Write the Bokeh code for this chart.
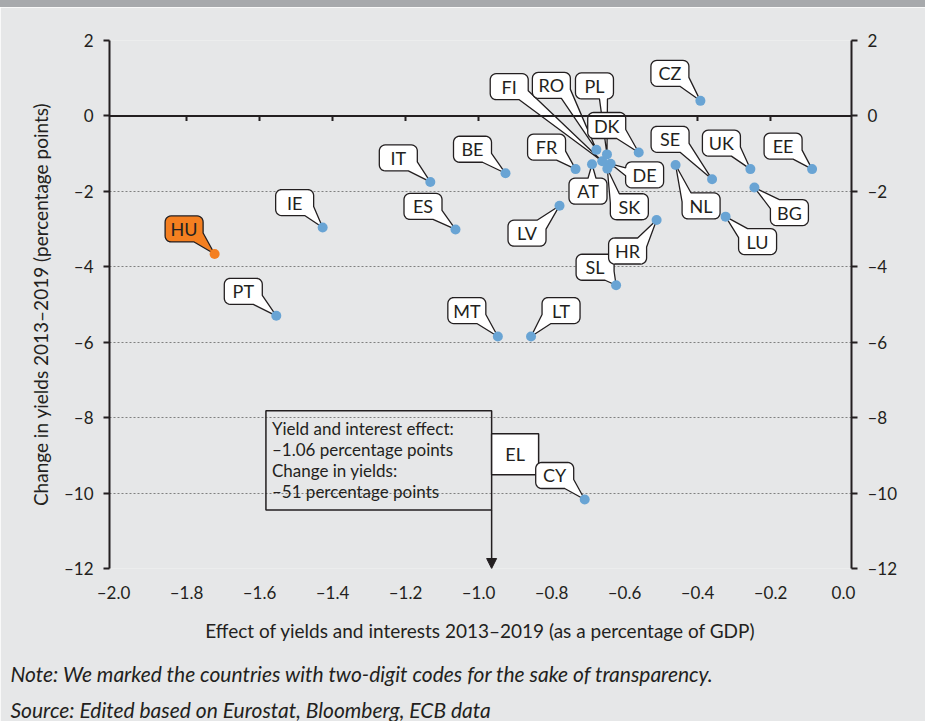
import numpy as np
from bokeh.plotting import figure
from bokeh.models import (ColumnDataSource, LinearAxis, FixedTicker, Span, Arrow,
                          NormalHead, Title)
from bokeh.core.properties import value
from bokeh.embed import file_html
from bokeh.resources import INLINE

# ---------------- data ----------------
countries = ["HU", "IE", "IT", "ES", "PT", "BE", "MT", "LT", "CY", "SL", "CZ", "FR", "AT",
             "RO", "FI", "PL", "DE", "SK", "DK", "NL", "SE", "UK", "EE", "BG", "LU", "LV", "HR"]
yield_effect = [-1.723, -1.427, -1.132, -1.063, -1.554, -0.926, -0.947, -0.856, -0.709, -0.623,
                -0.392, -0.734, -0.689, -0.677, -0.661, -0.648, -0.638, -0.647, -0.561, -0.460,
                -0.360, -0.255, -0.086, -0.244, -0.323, -0.778, -0.512]
yield_change = [-3.66, -2.96, -1.75, -3.01, -5.30, -1.52, -5.85, -5.85, -10.17, -4.49,
                0.40, -1.41, -1.28, -0.90, -1.20, -1.02, -1.27, -1.40, -0.97, -1.30,
                -1.68, -1.41, -1.41, -1.90, -2.67, -2.38, -2.76]
highlight = "HU"

el_code = "EL"
el_effect = -0.964
el_change = -51
el_note = ["Yield and interest effect:", "\u20131.06 percentage points",
           "Change in yields:", "\u201351 percentage points"]

x_ticks = [-2.0, -1.8, -1.6, -1.4, -1.2, -1.0, -0.8, -0.6, -0.4, -0.2, 0.0]
x_tick_labels = ["\u20132.0", "\u20131.8", "\u20131.6", "\u20131.4", "\u20131.2", "\u20131.0",
                 "\u20130.8", "\u20130.6", "\u20130.4", "\u20130.2", "0.0"]
y_ticks = [2, 0, -2, -4, -6, -8, -10, -12]
y_tick_labels = ["2", "0", "\u20132", "\u20134", "\u20136", "\u20138", "\u201310", "\u201312"]

x_title = "Effect of yields and interests 2013\u20132019 (as a percentage of GDP)"
y_title = "Change in yields 2013\u20132019 (percentage points)"
note_text = "Note: We marked the countries with two-digit codes for the sake of transparency."
source_text = "Source: Edited based on Eurostat, Bloomberg, ECB data"

# ---------------- layout / style ----------------
# callout box centre offsets from the point, in pixels (right, up)
callout_offsets = {
    "HU": (-30.5, 25), "IE": (-28, 25), "IT": (-32, 24), "ES": (-32.5, 23), "PT": (-33, 24.5),
    "BE": (-33, 24), "MT": (-31, 26), "LT": (30, 26), "CY": (-30, 24), "SL": (-21, 18),
    "CZ": (-30.5, 27.5), "FR": (-29, 22), "AT": (-4, -27), "RO": (-45, 64.5), "FI": (-93, 74.5),
    "PL": (-12.5, 68.5), "DE": (34, -11), "SK": (22, -38), "DK": (-32, 27), "NL": (25.5, -41),
    "SE": (-42, 40), "UK": (-29, 26), "EE": (-29, 23), "BG": (35, -25), "LU": (32, -25),
    "LV": (-32.5, -27.5), "HR": (-29, -31),
}
draw_order = ["PL", "FI", "RO", "DK"]  # these first so later boxes overlay their tails

BG = "#e6e7e8"
BAND = "#a7a9ac"
INK = "#231f20"
BLUE = "#69a4d4"
ORANGE = "#f47f20"
FONT = "Lato"

X0, X1 = -2.011, 0.022
Y0, Y1 = -12, 2
FW, FH = 742, 528
SX = FW / (X1 - X0)
SY = FH / (Y1 - Y0)

BOX_W, BOX_H, RAD = 38, 26, 6


def bubble(dx, dy, w=BOX_W, h=BOX_H, r=RAD, a=9, tw=8):
    """Speech-bubble outline in pixel offsets from the tail tip (0,0)."""
    L, R, B, T = dx - w / 2, dx + w / 2, dy - h / 2, dy + h / 2
    px, py = 0.0, 0.0
    if px > R and py < B:
        mode = "BR"
    elif px > R and py > T:
        mode = "TR"
    elif px < L and py > T:
        mode = "TL"
    elif px < L and py < B:
        mode = "BL"
    elif py < B:
        mode = "B"
    elif py > T:
        mode = "T"
    elif px > R:
        mode = "R"
    else:
        mode = "L"
    pts = []

    def arc(xc, yc, t0, t1):
        for t in np.linspace(t0, t1, 7):
            pts.append((xc + r * np.cos(t), yc + r * np.sin(t)))

    def clampx(v):
        return min(max(v, L + r + tw / 2), R - r - tw / 2)

    def clampy(v):
        return min(max(v, B + r + tw / 2), T - r - tw / 2)

    tip = (px, py)
    if mode == "BL":
        pts += [(L, B + a), tip, (L + a, B)]
    else:
        arc(L + r, B + r, np.pi, 1.5 * np.pi)
    if mode == "B":
        c = clampx(px)
        pts += [(c - tw / 2, B), tip, (c + tw / 2, B)]
    if mode == "BR":
        pts += [(R - a, B), tip, (R, B + a)]
    else:
        arc(R - r, B + r, 1.5 * np.pi, 2 * np.pi)
    if mode == "R":
        c = clampy(py)
        pts += [(R, c - tw / 2), tip, (R, c + tw / 2)]
    if mode == "TR":
        pts += [(R, T - a), tip, (R - a, T)]
    else:
        arc(R - r, T - r, 0, 0.5 * np.pi)
    if mode == "T":
        c = clampx(px)
        pts += [(c + tw / 2, T), tip, (c - tw / 2, T)]
    if mode == "TL":
        pts += [(L + a, T), tip, (L, T - a)]
    else:
        arc(L + r, T - r, 0.5 * np.pi, np.pi)
    if mode == "L":
        c = clampy(py)
        pts += [(L, c + tw / 2), tip, (L, c - tw / 2)]
    return pts


# ---------------- figure ----------------
p = figure(frame_width=FW, frame_height=FH, x_range=(X0, X1), y_range=(Y0, Y1),
           output_backend="svg", toolbar_location=None,
           min_border_left=109, min_border_right=74, min_border_top=33, min_border_bottom=20,
           background_fill_color=BG, border_fill_color=BG, outline_line_color=None)
p.styles = {"border-top": "7px solid " + BAND}

p.xgrid.grid_line_color = None
p.ygrid.ticker = FixedTicker(ticks=y_ticks)
p.ygrid.grid_line_color = "#808080"
p.ygrid.grid_line_dash = "2 2"
p.ygrid.grid_line_width = 1

# bottom axis: only labels
xa = p.xaxis[0]
xa.ticker = FixedTicker(ticks=x_ticks)
xa.major_label_overrides = dict(zip(x_ticks, x_tick_labels))
xa.axis_line_color = None
xa.major_tick_line_color = None
xa.minor_tick_line_color = None
xa.major_label_standoff = 7
xa.axis_label = x_title
xa.axis_label_standoff = 13
xa.axis_label_text_font = FONT
xa.axis_label_text_font_size = "19px"
xa.axis_label_text_font_style = "normal"
xa.axis_label_text_color = INK
xa.major_label_text_font = FONT
xa.major_label_text_font_size = "17px"
xa.major_label_text_color = INK

ya = p.yaxis[0]
ya.axis_label = y_title
ya.axis_label_standoff = 9
ya.axis_label_text_font = FONT
ya.axis_label_text_font_size = "19px"
ya.axis_label_text_font_style = "normal"
ya.axis_label_text_color = INK

ra = LinearAxis()
p.add_layout(ra, "right")
for ax in (ya, ra):
    ax.ticker = FixedTicker(ticks=y_ticks)
    ax.major_label_overrides = dict(zip(y_ticks, y_tick_labels))
    ax.axis_line_color = INK
    ax.axis_line_width = 2
    ax.major_tick_line_color = INK
    ax.major_tick_line_width = 2
    ax.major_tick_in = 0
    ax.major_tick_out = 6
    ax.minor_tick_line_color = None
    ax.major_label_standoff = 10
    ax.major_label_text_font = FONT
    ax.major_label_text_font_size = "17px"
    ax.major_label_text_color = INK

# notes below the chart (one two-line title)
p.add_layout(Title(text=note_text + "\n" + source_text, align="left", offset=-99, standoff=28,
                   text_font=FONT, text_font_size="21px", text_font_style="italic",
                   text_line_height=1.43, text_color=INK), "below")

# zero line acting as x axis, with ticks
p.add_layout(Span(location=0, dimension="width", line_color=INK, line_width=2))
inner_ticks = [t for t in x_ticks if X0 + 0.05 < t < X1 - 0.05]
p.segment(x0=inner_ticks, y0=[0] * len(inner_ticks), x1=inner_ticks,
          y1=[-5 / SY] * len(inner_ticks), line_color=INK, line_width=2)

# ---------------- EL annotation ----------------
box_w_px, box_top, box_bottom = 225.7, -7.82, -10.45
note_left = el_effect - box_w_px / SX
p.quad(left=[note_left], right=[el_effect], top=[box_top], bottom=[box_bottom],
       fill_color=None, line_color=INK, line_width=1.5)
p.add_layout(Arrow(end=NormalHead(size=10, fill_color=INK, line_color=INK),
                   x_start=el_effect, y_start=box_bottom, x_end=el_effect, y_end=Y0,
                   line_color=INK, line_width=1.5))
p.quad(left=[el_effect], right=[el_effect + 47 / SX], top=[box_top - 23 / SY],
       bottom=[box_top - 64 / SY], fill_color="white", line_color=INK, line_width=1.5)
p.text(x=[el_effect + 23.5 / SX], y=[box_top - 43.5 / SY], text=[el_code],
       text_align="center", text_baseline="middle", text_font=value(FONT),
       text_font_size="18px", text_color=INK)
p.text(x=[note_left] * len(el_note), y=[box_top] * len(el_note), text=el_note,
       x_offset=6, y_offset=[18 + 21 * i for i in range(len(el_note))],
       text_align="left", text_baseline="middle", text_font=value(FONT),
       text_font_size="17px", text_color=INK)

# ---------------- callouts ----------------
idx = {c: i for i, c in enumerate(countries)}
order = draw_order + [c for c in countries if c not in draw_order]
bx, by, bf = [], [], []
for c in order:
    i = idx[c]
    dx, dy = callout_offsets[c]
    pts = bubble(dx, dy)
    bx.append([yield_effect[i] + X / SX for X, _ in pts])
    by.append([yield_change[i] + Y / SY for _, Y in pts])
    bf.append(ORANGE if c == highlight else "white")
p.patches(xs=bx, ys=by, fill_color=bf, line_color=INK, line_width=1.3)

pt_colors = [ORANGE if c == highlight else BLUE for c in countries]
p.scatter(x=yield_effect, y=yield_change, size=10, fill_color=pt_colors, line_color=None)

lab = ColumnDataSource(dict(
    x=yield_effect, y=yield_change, text=countries,
    xo=[callout_offsets[c][0] for c in countries],
    yo=[-callout_offsets[c][1] for c in countries]))
p.text(x="x", y="y", text="text", x_offset="xo", y_offset="yo", source=lab,
       text_align="center", text_baseline="middle", text_font=value(FONT),
       text_font_size="18px", text_color=INK)

open("out.html", "w").write(file_html(p, INLINE))
